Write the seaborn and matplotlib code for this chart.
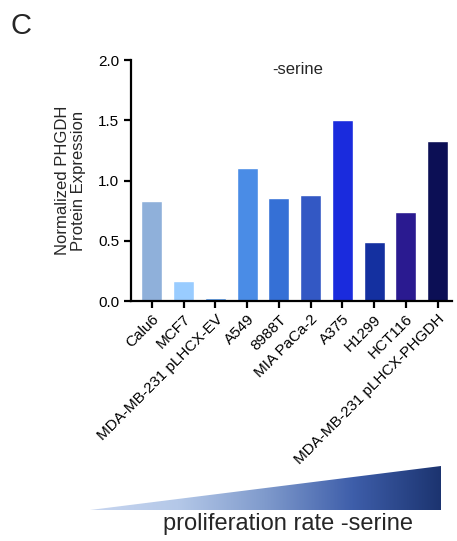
import matplotlib
matplotlib.use("Agg")
import matplotlib.pyplot as plt
import seaborn as sns
import numpy as np
import pandas as pd
from matplotlib.colors import LinearSegmentedColormap
from matplotlib.patches import Polygon

cell_lines = ["Calu6", "MCF7", "MDA-MB-231 pLHCX-EV", "A549", "8988T",
              "MIA PaCa-2", "A375", "H1299", "HCT116", "MDA-MB-231 pLHCX-PHGDH"]
expression = [0.83, 0.166, 0.025, 1.10, 0.855, 0.88, 1.50, 0.487, 0.739, 1.325]
bar_colors = ["#8FB0DA", "#99CCFF", "#4A90E2", "#4A8CE6", "#3570D6",
              "#3358C4", "#1A2BDD", "#1430A0", "#2A1A90", "#0C0F55"]
y_ticks = [0.0, 0.5, 1.0, 1.5, 2.0]

sns.set_style("ticks")
plt.rcParams['font.family'] = ['Liberation Sans', 'DejaVu Sans']

df = pd.DataFrame({"cell": cell_lines, "expr": expression})

fig = plt.figure(figsize=(4.57, 5.41), dpi=100)
ax = fig.add_axes([0.2867, 0.4436, 0.702, 0.4454])
sns.barplot(data=df, x="cell", y="expr", hue="cell", palette=bar_colors,
            legend=False, width=0.66, ax=ax, saturation=1)
ax.set_xlim(-0.66, 9.45)
ax.set_ylim(0, 2.0)
ax.set_yticks(y_ticks)
ax.set_yticklabels([f"{t:.1f}" for t in y_ticks], fontsize=11)
ax.set_xlabel("")
ax.set_ylabel("Normalized PHGDH\nProtein Expression", fontsize=12, labelpad=9, linespacing=1.05)
ax.set_xticks(range(len(cell_lines)))
ax.set_xticklabels(cell_lines, rotation=45, ha="right", rotation_mode="anchor", fontsize=11)
ax.tick_params(axis="both", direction="out", length=5, width=1.6, colors="black")
ax.tick_params(axis="x", pad=3)
for s in ["top", "right"]:
    ax.spines[s].set_visible(False)
for s in ["left", "bottom"]:
    ax.spines[s].set_linewidth(1.6)
    ax.spines[s].set_color("black")
ax.text(0.52, 0.99, "-serine", transform=ax.transAxes, ha="center", va="top", fontsize=12)

fig.text(0.024, 0.978, "C", fontsize=21, ha="left", va="top")

# gradient triangle (pixel coordinates)
gax = fig.add_axes([0, 0, 1, 1])
gax.set_xlim(0, 457)
gax.set_ylim(541, 0)
gax.axis("off")
cmap = LinearSegmentedColormap.from_list("g", ["#C8D6F0", "#B4C8E8", "#7F9ACC", "#3E5EAA", "#1C3470"])
grad = np.linspace(0, 1, 256).reshape(1, -1)
im = gax.imshow(grad, cmap=cmap, extent=[90, 441, 510, 466], aspect="auto")
tri = Polygon([[90, 510], [441, 466], [441, 510]], closed=True, transform=gax.transData)
im.set_clip_path(tri)
gax.text(288, 524, "proliferation rate -serine", ha="center", va="center", fontsize=17)

fig.savefig("out.png", dpi=100)
